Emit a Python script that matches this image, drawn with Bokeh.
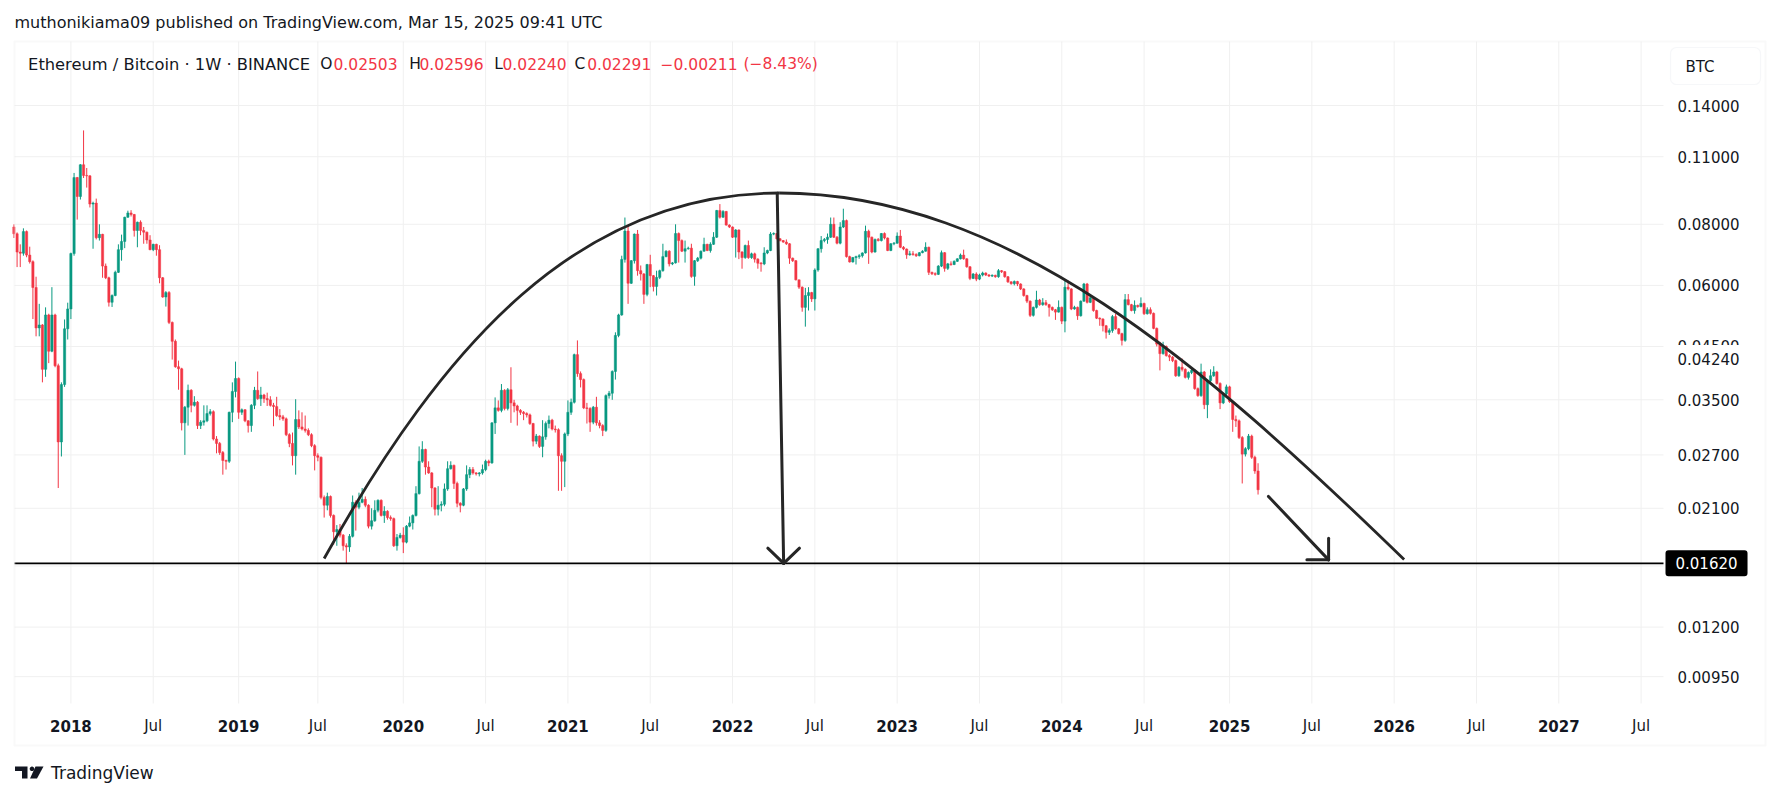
import math
import pandas as pd
from bokeh.plotting import figure
from bokeh.models import Range1d, Label, BoxAnnotation, PolyAnnotation, ColumnDataSource
from bokeh.embed import file_html
from bokeh.resources import INLINE

# ------------------------------------------------------------------ data
first_week = "2017-08-28"          # weekly candles, one per Monday
first_open = 0.0790

close = [
    0.0765, 0.0702, 0.0698, 0.0773, 0.0692, 0.0671, 0.0594, 0.0491, 0.0498, 0.0404,
    0.0522, 0.0440, 0.0522, 0.0411, 0.0287, 0.0376, 0.0489, 0.0537, 0.0697, 0.0997,
    0.0912, 0.1059, 0.1007, 0.1005, 0.0880, 0.0884, 0.0751, 0.0763, 0.0657, 0.0622,
    0.0554, 0.0572, 0.0638, 0.0710, 0.0738, 0.0827, 0.0844, 0.0838, 0.0777, 0.0808,
    0.0777, 0.0771, 0.0743, 0.0710, 0.0728, 0.0710, 0.0622, 0.0568, 0.0580, 0.0504,
    0.0461, 0.0409, 0.0405, 0.0314, 0.0338, 0.0366, 0.0341, 0.0346, 0.0310, 0.0315,
    0.0317, 0.0328, 0.0331, 0.0291, 0.0285, 0.0273, 0.0263, 0.0262, 0.0330, 0.0364,
    0.0387, 0.0330, 0.0334, 0.0317, 0.0310, 0.0341, 0.0366, 0.0352, 0.0358, 0.0352,
    0.0350, 0.0341, 0.0339, 0.0325, 0.0323, 0.0320, 0.0297, 0.0285, 0.0269, 0.0319,
    0.0308, 0.0305, 0.0303, 0.0297, 0.0282, 0.0269, 0.0267, 0.0221, 0.0213, 0.0222,
    0.0203, 0.0188, 0.0190, 0.0185, 0.0176, 0.0175, 0.0184, 0.0216, 0.0211, 0.0216,
    0.0219, 0.0213, 0.0193, 0.0198, 0.0208, 0.0218, 0.0203, 0.0207, 0.0201, 0.0200,
    0.0176, 0.0183, 0.0185, 0.0179, 0.0193, 0.0196, 0.0203, 0.0225, 0.0262, 0.0277,
    0.0255, 0.0248, 0.0231, 0.0209, 0.0213, 0.0214, 0.0230, 0.0253, 0.0257, 0.0236,
    0.0215, 0.0213, 0.0230, 0.0246, 0.0252, 0.0248, 0.0247, 0.0248, 0.0252, 0.0262,
    0.0260, 0.0314, 0.0337, 0.0333, 0.0366, 0.0336, 0.0367, 0.0345, 0.0340, 0.0333,
    0.0330, 0.0328, 0.0326, 0.0313, 0.0288, 0.0295, 0.0281, 0.0294, 0.0313, 0.0318,
    0.0305, 0.0304, 0.0269, 0.0262, 0.0298, 0.0330, 0.0346, 0.0433, 0.0396, 0.0385,
    0.0337, 0.0336, 0.0315, 0.0338, 0.0314, 0.0310, 0.0303, 0.0357, 0.0361, 0.0400,
    0.0474, 0.0522, 0.0678, 0.0775, 0.0606, 0.0674, 0.0764, 0.0643, 0.0633, 0.0575,
    0.0662, 0.0628, 0.0597, 0.0623, 0.0643, 0.0687, 0.0705, 0.0664, 0.0667, 0.0766,
    0.0741, 0.0705, 0.0713, 0.0715, 0.0626, 0.0674, 0.0682, 0.0705, 0.0728, 0.0707,
    0.0728, 0.0753, 0.0854, 0.0827, 0.0850, 0.0797, 0.0790, 0.0753, 0.0779, 0.0702,
    0.0684, 0.0724, 0.0684, 0.0696, 0.0679, 0.0666, 0.0664, 0.0699, 0.0707, 0.0764,
    0.0766, 0.0747, 0.0741, 0.0736, 0.0730, 0.0682, 0.0674, 0.0616, 0.0595, 0.0541,
    0.0572, 0.0580, 0.0563, 0.0645, 0.0713, 0.0741, 0.0745, 0.0753, 0.0800, 0.0753,
    0.0732, 0.0790, 0.0814, 0.0687, 0.0670, 0.0684, 0.0687, 0.0690, 0.0699, 0.0774,
    0.0753, 0.0702, 0.0745, 0.0741, 0.0766, 0.0750, 0.0707, 0.0730, 0.0732, 0.0757,
    0.0718, 0.0712, 0.0693, 0.0696, 0.0694, 0.0690, 0.0700, 0.0705, 0.0718, 0.0638,
    0.0634, 0.0632, 0.0657, 0.0700, 0.0650, 0.0664, 0.0662, 0.0672, 0.0680, 0.0692,
    0.0680, 0.0655, 0.0620, 0.0633, 0.0618, 0.0630, 0.0636, 0.0630, 0.0627, 0.0629,
    0.0625, 0.0643, 0.0640, 0.0625, 0.0610, 0.0605, 0.0611, 0.0604, 0.0590, 0.0572,
    0.0557, 0.0521, 0.0541, 0.0560, 0.0548, 0.0553, 0.0548, 0.0541, 0.0535, 0.0529,
    0.0541, 0.0507, 0.0595, 0.0590, 0.0537, 0.0541, 0.0520, 0.0557, 0.0604, 0.0554,
    0.0566, 0.0533, 0.0514, 0.0512, 0.0496, 0.0481, 0.0485, 0.0518, 0.0489, 0.0478,
    0.0463, 0.0561, 0.0548, 0.0533, 0.0546, 0.0543, 0.0551, 0.0525, 0.0535, 0.0526,
    0.0490, 0.0455, 0.0435, 0.0450, 0.0431, 0.0428, 0.0421, 0.0392, 0.0408, 0.0404,
    0.0389, 0.0398, 0.0402, 0.0369, 0.0357, 0.0399, 0.0342, 0.0383, 0.0392, 0.0399,
    0.0378, 0.0345, 0.0360, 0.0372, 0.0347, 0.0319, 0.0317, 0.0293, 0.0271, 0.0278,
    0.0295, 0.0267, 0.02503, 0.02291,
]

high = [
    0.0800, 0.0770, 0.0728, 0.0785, 0.0777, 0.0720, 0.0675, 0.0625, 0.0550, 0.0500,
    0.0541, 0.0525, 0.0595, 0.0525, 0.0415, 0.0380, 0.0511, 0.0553, 0.0700, 0.1019,
    0.1000, 0.1062, 0.1245, 0.1043, 0.1008, 0.0890, 0.0903, 0.0800, 0.0765, 0.0665,
    0.0625, 0.0575, 0.0643, 0.0728, 0.0762, 0.0829, 0.0853, 0.0855, 0.0840, 0.0810,
    0.0815, 0.0790, 0.0773, 0.0760, 0.0730, 0.0730, 0.0725, 0.0624, 0.0584, 0.0584,
    0.0506, 0.0465, 0.0421, 0.0407, 0.0340, 0.0376, 0.0368, 0.0356, 0.0348, 0.0318,
    0.0341, 0.0341, 0.0335, 0.0333, 0.0295, 0.0287, 0.0275, 0.0264, 0.0331, 0.0380,
    0.0419, 0.0389, 0.0336, 0.0335, 0.0318, 0.0343, 0.0372, 0.0400, 0.0372, 0.0360,
    0.0362, 0.0356, 0.0345, 0.0355, 0.0335, 0.0326, 0.0322, 0.0299, 0.0300, 0.0351,
    0.0333, 0.0330, 0.0325, 0.0306, 0.0299, 0.0284, 0.0272, 0.0268, 0.0223, 0.0226,
    0.0223, 0.0204, 0.0194, 0.0195, 0.0186, 0.0178, 0.0186, 0.0223, 0.0218, 0.0226,
    0.0231, 0.0222, 0.0214, 0.0210, 0.0218, 0.0219, 0.0219, 0.0212, 0.0208, 0.0203,
    0.0201, 0.0186, 0.0187, 0.0192, 0.0194, 0.0202, 0.0204, 0.0233, 0.0281, 0.0288,
    0.0278, 0.0262, 0.0249, 0.0232, 0.0233, 0.0217, 0.0236, 0.0262, 0.0262, 0.0258,
    0.0238, 0.0216, 0.0231, 0.0257, 0.0255, 0.0255, 0.0249, 0.0249, 0.0258, 0.0264,
    0.0264, 0.0315, 0.0354, 0.0349, 0.0377, 0.0368, 0.0370, 0.0408, 0.0350, 0.0342,
    0.0335, 0.0332, 0.0330, 0.0328, 0.0314, 0.0298, 0.0296, 0.0318, 0.0316, 0.0325,
    0.0320, 0.0310, 0.0306, 0.0272, 0.0300, 0.0349, 0.0352, 0.0435, 0.0463, 0.0400,
    0.0387, 0.0345, 0.0338, 0.0340, 0.0355, 0.0318, 0.0312, 0.0359, 0.0365, 0.0402,
    0.0481, 0.0525, 0.0690, 0.0826, 0.0796, 0.0676, 0.0766, 0.0779, 0.0659, 0.0636,
    0.0664, 0.0693, 0.0630, 0.0643, 0.0646, 0.0730, 0.0708, 0.0708, 0.0670, 0.0800,
    0.0770, 0.0745, 0.0741, 0.0720, 0.0730, 0.0676, 0.0686, 0.0707, 0.0751, 0.0730,
    0.0735, 0.0771, 0.0856, 0.0880, 0.0855, 0.0852, 0.0800, 0.0792, 0.0782, 0.0781,
    0.0705, 0.0727, 0.0741, 0.0700, 0.0700, 0.0682, 0.0670, 0.0718, 0.0710, 0.0771,
    0.0770, 0.0768, 0.0750, 0.0743, 0.0745, 0.0732, 0.0684, 0.0676, 0.0607, 0.0597,
    0.0593, 0.0595, 0.0582, 0.0650, 0.0715, 0.0757, 0.0750, 0.0766, 0.0826, 0.0826,
    0.0757, 0.0808, 0.0861, 0.0818, 0.0690, 0.0686, 0.0690, 0.0695, 0.0701, 0.0795,
    0.0780, 0.0755, 0.0748, 0.0750, 0.0768, 0.0770, 0.0752, 0.0732, 0.0736, 0.0770,
    0.0779, 0.0722, 0.0714, 0.0706, 0.0705, 0.0698, 0.0702, 0.0708, 0.0735, 0.0720,
    0.0640, 0.0638, 0.0660, 0.0707, 0.0702, 0.0667, 0.0672, 0.0675, 0.0682, 0.0697,
    0.0710, 0.0682, 0.0657, 0.0636, 0.0638, 0.0634, 0.0640, 0.0638, 0.0633, 0.0632,
    0.0631, 0.0648, 0.0645, 0.0642, 0.0627, 0.0612, 0.0614, 0.0613, 0.0606, 0.0592,
    0.0574, 0.0559, 0.0543, 0.0585, 0.0563, 0.0565, 0.0560, 0.0550, 0.0543, 0.0537,
    0.0559, 0.0543, 0.0614, 0.0614, 0.0592, 0.0545, 0.0543, 0.0559, 0.0607, 0.0607,
    0.0576, 0.0568, 0.0535, 0.0516, 0.0514, 0.0498, 0.0490, 0.0522, 0.0525, 0.0491,
    0.0480, 0.0576, 0.0576, 0.0550, 0.0559, 0.0548, 0.0567, 0.0553, 0.0541, 0.0541,
    0.0528, 0.0492, 0.0460, 0.0460, 0.0452, 0.0434, 0.0430, 0.0423, 0.0410, 0.0425,
    0.0406, 0.0400, 0.0408, 0.0404, 0.0371, 0.0415, 0.0401, 0.0385, 0.0404, 0.0410,
    0.0401, 0.0380, 0.0362, 0.0376, 0.0374, 0.0349, 0.0325, 0.0319, 0.0295, 0.0280,
    0.0298, 0.0297, 0.0269, 0.02596,
]

low = [
    0.0750, 0.0654, 0.0654, 0.0690, 0.0685, 0.0665, 0.0512, 0.0472, 0.0472, 0.0380,
    0.0390, 0.0416, 0.0438, 0.0408, 0.0231, 0.0268, 0.0372, 0.0465, 0.0512, 0.0690,
    0.0818, 0.0899, 0.0995, 0.0951, 0.0866, 0.0713, 0.0745, 0.0741, 0.0622, 0.0618,
    0.0543, 0.0542, 0.0570, 0.0636, 0.0674, 0.0715, 0.0825, 0.0830, 0.0755, 0.0718,
    0.0760, 0.0730, 0.0730, 0.0708, 0.0705, 0.0690, 0.0606, 0.0566, 0.0543, 0.0500,
    0.0423, 0.0407, 0.0367, 0.0303, 0.0270, 0.0310, 0.0330, 0.0339, 0.0305, 0.0305,
    0.0310, 0.0315, 0.0325, 0.0289, 0.0272, 0.0270, 0.0246, 0.0252, 0.0260, 0.0315,
    0.0354, 0.0320, 0.0326, 0.0315, 0.0300, 0.0301, 0.0335, 0.0350, 0.0340, 0.0345,
    0.0340, 0.0339, 0.0309, 0.0323, 0.0318, 0.0317, 0.0295, 0.0280, 0.0257, 0.0246,
    0.0305, 0.0303, 0.0300, 0.0295, 0.0280, 0.0251, 0.0262, 0.0219, 0.0201, 0.0208,
    0.0201, 0.0177, 0.0176, 0.0183, 0.0172, 0.0162, 0.0171, 0.0183, 0.0189, 0.0209,
    0.0215, 0.0211, 0.0191, 0.0190, 0.0197, 0.0206, 0.0202, 0.0196, 0.0199, 0.0198,
    0.0175, 0.0172, 0.0182, 0.0170, 0.0178, 0.0192, 0.0190, 0.0202, 0.0224, 0.0260,
    0.0246, 0.0247, 0.0211, 0.0203, 0.0203, 0.0207, 0.0212, 0.0228, 0.0252, 0.0230,
    0.0211, 0.0206, 0.0212, 0.0228, 0.0242, 0.0246, 0.0245, 0.0244, 0.0246, 0.0250,
    0.0256, 0.0259, 0.0298, 0.0331, 0.0330, 0.0333, 0.0333, 0.0314, 0.0330, 0.0310,
    0.0326, 0.0318, 0.0322, 0.0311, 0.0281, 0.0284, 0.0279, 0.0267, 0.0290, 0.0306,
    0.0303, 0.0300, 0.0228, 0.0228, 0.0232, 0.0295, 0.0326, 0.0344, 0.0390, 0.0371,
    0.0335, 0.0313, 0.0301, 0.0312, 0.0310, 0.0306, 0.0295, 0.0301, 0.0352, 0.0350,
    0.0385, 0.0470, 0.0520, 0.0668, 0.0550, 0.0604, 0.0665, 0.0628, 0.0614, 0.0550,
    0.0570, 0.0595, 0.0583, 0.0572, 0.0618, 0.0640, 0.0685, 0.0656, 0.0660, 0.0665,
    0.0668, 0.0702, 0.0668, 0.0710, 0.0622, 0.0599, 0.0670, 0.0678, 0.0703, 0.0705,
    0.0700, 0.0726, 0.0750, 0.0822, 0.0825, 0.0795, 0.0786, 0.0750, 0.0684, 0.0679,
    0.0649, 0.0680, 0.0680, 0.0680, 0.0668, 0.0649, 0.0640, 0.0660, 0.0695, 0.0705,
    0.0760, 0.0745, 0.0738, 0.0733, 0.0726, 0.0664, 0.0670, 0.0614, 0.0590, 0.0530,
    0.0494, 0.0533, 0.0555, 0.0533, 0.0640, 0.0700, 0.0735, 0.0730, 0.0750, 0.0750,
    0.0728, 0.0728, 0.0786, 0.0684, 0.0668, 0.0668, 0.0662, 0.0680, 0.0684, 0.0697,
    0.0664, 0.0698, 0.0700, 0.0738, 0.0738, 0.0745, 0.0705, 0.0705, 0.0725, 0.0730,
    0.0715, 0.0708, 0.0680, 0.0690, 0.0690, 0.0686, 0.0688, 0.0698, 0.0703, 0.0630,
    0.0630, 0.0628, 0.0630, 0.0654, 0.0640, 0.0645, 0.0658, 0.0660, 0.0670, 0.0678,
    0.0677, 0.0652, 0.0615, 0.0618, 0.0612, 0.0615, 0.0626, 0.0627, 0.0624, 0.0624,
    0.0622, 0.0622, 0.0636, 0.0622, 0.0607, 0.0602, 0.0600, 0.0598, 0.0587, 0.0569,
    0.0552, 0.0517, 0.0518, 0.0538, 0.0545, 0.0545, 0.0545, 0.0518, 0.0532, 0.0510,
    0.0528, 0.0500, 0.0481, 0.0586, 0.0534, 0.0535, 0.0510, 0.0518, 0.0555, 0.0551,
    0.0552, 0.0530, 0.0512, 0.0496, 0.0483, 0.0467, 0.0475, 0.0480, 0.0487, 0.0476,
    0.0452, 0.0460, 0.0546, 0.0531, 0.0525, 0.0540, 0.0541, 0.0522, 0.0523, 0.0523,
    0.0488, 0.0450, 0.0402, 0.0433, 0.0429, 0.0420, 0.0418, 0.0390, 0.0390, 0.0400,
    0.0387, 0.0385, 0.0395, 0.0367, 0.0355, 0.0355, 0.0335, 0.0321, 0.0380, 0.0390,
    0.0376, 0.0335, 0.0343, 0.0358, 0.0345, 0.0301, 0.0308, 0.0291, 0.0236, 0.0268,
    0.0276, 0.0265, 0.0247, 0.02240,
]
assert len(close) == len(high) == len(low)

x_tick_dates = ["2018-01-01", "2018-07-02", "2019-01-07", "2019-07-01", "2020-01-06",
                "2020-07-06", "2021-01-04", "2021-07-05", "2022-01-03", "2022-07-04",
                "2023-01-02", "2023-07-03", "2024-01-01", "2024-07-01", "2025-01-06",
                "2025-07-07", "2026-01-05", "2026-07-06", "2027-01-04", "2027-07-05"]
x_tick_labels = ["2018", "Jul", "2019", "Jul", "2020", "Jul", "2021", "Jul", "2022", "Jul",
                 "2023", "Jul", "2024", "Jul", "2025", "Jul", "2026", "Jul", "2027", "Jul"]
y_ticks = [0.14, 0.11, 0.08, 0.06, 0.045, 0.035, 0.027, 0.021, 0.012, 0.0095]
y_hidden_tick = 0.016
support_level = 0.0162
marked_level = 0.0424

header_text = "muthonikiama09 published on TradingView.com, Mar 15, 2025 09:41 UTC"
symbol_text = "Ethereum / Bitcoin · 1W · BINANCE"
ohlc_keys = ["O", "H", "L", "C"]
ohlc_vals = ["0.02503", "0.02596", "0.02240", "0.02291"]
change_vals = ["−0.00211", "(−8.43%)"]
currency = "BTC"
brand = "TradingView"

# hand-drawn annotations (date, price)
arc_left = (["2019-07-15", "2020-04-06", "2021-01-29", "2022-04-16"],
            [0.016572, 0.045847, 0.092712, 0.092712])
arc_right = (["2022-04-16", "2023-09-07", "2024-11-11", "2026-01-27"],
             [0.092712, 0.092712, 0.041138, 0.016494])
arrow_down = (["2022-04-11 19:00", "2022-04-26"], [0.0926, 0.0162])
arrow_down_wings = (["2022-03-22", "2022-05-31"], [0.0174, 0.0174])
arrow_diag = (["2025-04-02", "2025-08-13"], [0.0222, 0.01647])
arrow_diag_wings = (["2025-06-26", "2025-08-13"], [0.01647, 0.01824])

# ------------------------------------------------------------------ page geometry
W, H = 1775, 795
ANCHOR = pd.Timestamp("2018-01-01")     # placed at x = 70.4 px
ANCHOR_PX, PX_PER_DAY = 70.4, 0.45225
Y_REF_PX, Y_REF_VAL, PX_PER_LN = 105.0, 0.14, 212.3
PANE_L, PANE_T, PANE_R, PANE_B = 14, 41, 1663, 703


def ms(s):
    return pd.Timestamp(s).value / 1e6


def date_ms_at(X):
    return (ANCHOR + pd.Timedelta(days=(X - ANCHOR_PX) / PX_PER_DAY)).value / 1e6


def price_at(Y):
    return Y_REF_VAL * math.exp(-(Y - Y_REF_PX) / PX_PER_LN)


UP, DOWN, INK = "#089981", "#f23645", "#131722"
GRID, DRAW = "#f0f0f0", "#262626"
FONT = "DejaVu Sans"

p = figure(width=W, height=H, x_axis_type="datetime", y_axis_type="log",
           x_axis_location=None, y_axis_location=None,
           x_range=Range1d(date_ms_at(0), date_ms_at(W)),
           y_range=Range1d(price_at(H), price_at(0)),
           output_backend="svg", toolbar_location=None,
           min_border=0)
p.background_fill_color = "white"
p.border_fill_color = "white"
p.outline_line_color = None
p.grid.visible = False

# grid (limited to the price pane)
gx = [ms(d) for d in x_tick_dates]
p.segment(x0=gx, x1=gx, y0=[price_at(PANE_B)] * len(gx), y1=[price_at(PANE_T)] * len(gx),
          line_color=GRID, line_width=1)
gy = y_ticks + [y_hidden_tick]
p.segment(x0=[date_ms_at(PANE_L)] * len(gy), x1=[date_ms_at(PANE_R)] * len(gy),
          y0=gy, y1=gy, line_color=GRID, line_width=1)

# candles
dates = pd.date_range(first_week, periods=len(close), freq="7D")
opens = [first_open] + close[:-1]
hi = [max(h, o, c) for h, o, c in zip(high, opens, close)]
lo = [min(l, o, c) for l, o, c in zip(low, opens, close)]
src = ColumnDataSource(dict(
    date=dates, open=opens, close=close, high=hi, low=lo,
    top=[max(o, c) for o, c in zip(opens, close)],
    bottom=[min(o, c) for o, c in zip(opens, close)],
    color=[UP if c >= o else DOWN for o, c in zip(opens, close)]))
body_w = 5.0 * 86400000
p.segment(x0="date", y0="low", x1="date", y1="high", line_color="color",
          line_width=1, source=src)
p.vbar(x="date", width=body_w, top="top", bottom="bottom", fill_color="color",
       line_color="color", line_width=0.5, source=src)

# horizontal support line
p.segment(x0=[date_ms_at(PANE_L)], x1=[date_ms_at(PANE_R)], y0=[support_level],
          y1=[support_level], line_color="#000000", line_width=1.6)

# arc
for xs, ys in (arc_left, arc_right):
    p.bezier(x0=[ms(xs[0])], y0=[ys[0]], cx0=[ms(xs[1])], cy0=[ys[1]],
             cx1=[ms(xs[2])], cy1=[ys[2]], x1=[ms(xs[3])], y1=[ys[3]],
             line_color=DRAW, line_width=2.8)

# arrows
for (sx, sy), (wx, wy) in ((arrow_down, arrow_down_wings), (arrow_diag, arrow_diag_wings)):
    p.line([ms(d) for d in sx], sy, line_color=DRAW, line_width=3, line_cap="round")
    tip_x, tip_y = ms(sx[1]), sy[1]
    p.segment(x0=[ms(d) for d in wx], y0=wy, x1=[tip_x, tip_x], y1=[tip_y, tip_y],
              line_color=DRAW, line_width=3, line_cap="round")


# ------------------------------------------------------------------ texts / chrome
def box(L, T, R, B, **kw):
    p.add_layout(BoxAnnotation(left=L, right=R, top=H - T, bottom=H - B,
                               left_units="screen", right_units="screen",
                               top_units="screen", bottom_units="screen", **kw))


def lab(X, Y, text, size="15px", color=INK, style="normal", align="left", **kw):
    p.add_layout(Label(x=X, y=H - Y, x_units="screen", y_units="screen",
                       text=text, text_font=FONT, text_font_size=size,
                       text_color=color, text_font_style=style, text_align=align,
                       text_baseline="middle", **kw))


# outer frame border
box(PANE_L, PANE_T, 1765, 745, fill_alpha=0, line_color="#ebebeb", line_width=2)

lab(14, 21.6, header_text, size="16px")
lab(27.6, 63.6, symbol_text, size="16.3px")
for X, key in zip([319.7, 408.7, 493.7, 574.0], ohlc_keys):
    lab(X, 63.6, key, size="15.5px")
for X, val in zip([333.0, 419.0, 502.0, 586.7], ohlc_vals):
    lab(X, 63.6, val, size="15.5px", color=DOWN)
for X, val in zip([660.0, 743.0], change_vals):
    lab(X, 63.6, val, size="15.5px", color=DOWN)

# currency button
box(1670, 47, 1760, 84, fill_color="white", fill_alpha=1, line_color="#e0e3eb",
    line_width=1.2, border_radius=6)
lab(1685, 66, currency)

# price scale labels (placed through the log scale)
for v in y_ticks:
    p.add_layout(Label(x=1677, y=v, x_units="screen", y_units="data",
                       text=f"{v:.5f}", text_font=FONT, text_font_size="15px",
                       text_color=INK, text_baseline="middle"))
# label box anchor is its outer left edge; text sits one padding further right
p.add_layout(Label(x=1665, y=marked_level, x_units="screen", y_units="data",
                   text=f"{marked_level:.5f}", text_font=FONT, text_font_size="15px",
                   text_color=INK, text_baseline="middle",
                   background_fill_color="white", padding=(12, 8)))
p.add_layout(Label(x=1665, y=support_level, x_units="screen", y_units="data",
                   text=f"{support_level:.5f}", text_font=FONT, text_font_size="15px",
                   text_color="white", text_baseline="middle",
                   background_fill_color="black", padding=(10, 7), border_radius=3))

# time scale labels (placed through the datetime scale)
for d, t in zip(x_tick_dates, x_tick_labels):
    p.add_layout(Label(x=ms(d), y=H - 725, x_units="data", y_units="screen", text=t,
                       text_font=FONT, text_font_size="15px", text_color=INK,
                       text_font_style="bold" if t != "Jul" else "normal",
                       text_align="center", text_baseline="middle"))

# TradingView logo
logo_T = ([14.5, 27, 27, 21.5, 21.5, 14.5], [766, 766, 778, 778, 770.5, 770.5])
logo_slash = ([35, 43, 36.5, 29.5], [766, 766, 778, 778])
logo_dot = ([31.5 + 2.3 * math.cos(a * math.pi / 8) for a in range(16)],
            [768.3 + 2.3 * math.sin(a * math.pi / 8) for a in range(16)])
for xs, ys in (logo_T, logo_slash, logo_dot):
    p.add_layout(PolyAnnotation(xs=list(xs), ys=[H - y for y in ys],
                                xs_units="screen", ys_units="screen",
                                fill_color=INK, fill_alpha=1, line_color=None))
lab(50.5, 772, brand, size="17px")

open("out.html", "w").write(file_html(p, INLINE))
